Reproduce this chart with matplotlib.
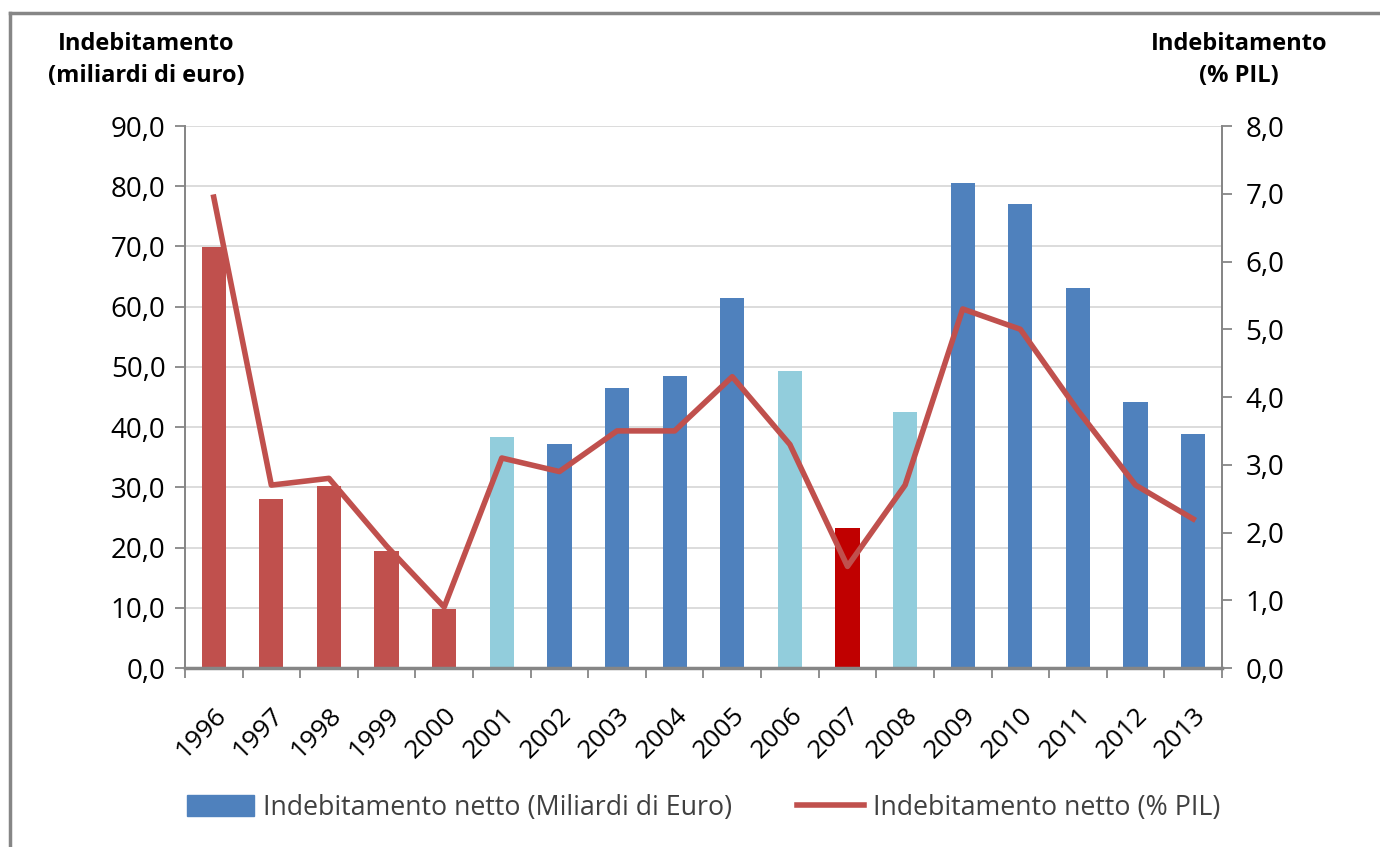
import matplotlib
matplotlib.use('Agg')
import matplotlib.pyplot as plt
from matplotlib.ticker import FuncFormatter, MultipleLocator
from matplotlib.lines import Line2D
from matplotlib.patches import Patch
import numpy as np

plt.rcParams['font.family'] = ['Open Sans', 'DejaVu Sans']

# dati
anni = ['1996', '1997', '1998', '1999', '2000', '2001', '2002', '2003', '2004',
        '2005', '2006', '2007', '2008', '2009', '2010', '2011', '2012', '2013']
miliardi = [69.9, 28.1, 30.2, 19.4, 9.8, 38.4, 37.2, 46.5, 48.5,
            61.4, 49.3, 23.2, 42.5, 80.5, 77.0, 63.1, 44.2, 38.9]
pil = [6.95, 2.7, 2.8, 1.8, 0.9, 3.1, 2.9, 3.5, 3.5,
       4.3, 3.3, 1.5, 2.7, 5.3, 5.0, 3.8, 2.7, 2.2]
colori = ['#C0504D'] * 5 + ['#92CDDC', '#4F81BD', '#4F81BD', '#4F81BD', '#4F81BD',
                            '#92CDDC', '#C00000', '#92CDDC',
                            '#4F81BD', '#4F81BD', '#4F81BD', '#4F81BD', '#4F81BD']

fig = plt.figure(figsize=(13.8, 8.47), dpi=100)
ax = fig.add_axes([0.134, 0.2113, 0.7515, 0.6399])
x = np.arange(len(anni))
ax.bar(x, miliardi, width=0.42, color=colori, zorder=2)
ax.set_xlim(-0.5, len(anni) - 0.5)
ax.set_ylim(0, 90)
ax.yaxis.set_major_locator(MultipleLocator(10))
virgola = FuncFormatter(lambda v, p: ('%.1f' % v).replace('.', ','))
ax.yaxis.set_major_formatter(virgola)
ax.grid(axis='y', color='#D9D9D9', linewidth=1.3, zorder=0)
ax.set_axisbelow(True)

ax2 = ax.twinx()
ax2.plot(x, pil, color='#C0504D', linewidth=4, zorder=3)
ax2.set_ylim(0, 8)
ax2.yaxis.set_major_locator(MultipleLocator(1))
ax2.yaxis.set_major_formatter(virgola)

for a in (ax, ax2):
    for s in a.spines.values():
        s.set_color('#868686')
        s.set_linewidth(1.3)
    a.spines['top'].set_visible(False)
ax.spines['bottom'].set_linewidth(2.5)

ax.set_xticks(x)
ax.set_xticklabels(anni, rotation=45, ha='right', rotation_mode='anchor', fontsize=19)
ax.set_xticks(np.arange(-0.5, len(anni), 1), minor=True)
ax.tick_params(axis='x', which='major', length=0, pad=25)
ax.tick_params(axis='x', which='minor', length=7, color='#868686', width=1.3)
ax.tick_params(axis='y', length=7, color='#868686', width=1.3, labelsize=20, pad=7)
ax2.tick_params(axis='y', length=7, color='#868686', width=1.3, labelsize=20, pad=10)

fig.text(0.106, 0.929, 'Indebitamento\n(miliardi di euro)', ha='center', va='center',
         fontsize=17, fontweight='bold', linespacing=1.45)
fig.text(0.898, 0.929, 'Indebitamento\n(% PIL)', ha='center', va='center',
         fontsize=17, fontweight='bold', linespacing=1.45)

maniglie = [Patch(color='#4F81BD'), Line2D([0], [0], color='#C0504D', linewidth=4)]
fig.legend(maniglie, ['Indebitamento netto (Miliardi di Euro)', 'Indebitamento netto (% PIL)'],
           loc='center', bbox_to_anchor=(0.51, 0.046), ncol=2, frameon=False,
           fontsize=19.3, handlelength=2.5, handleheight=0.8, columnspacing=2.4,
           handletextpad=0.35, labelcolor='#404040')

# cornice grigia
fig.add_artist(Line2D([0.0074, 0.0074], [0, 0.985], color='#868686', linewidth=2.5))
fig.add_artist(Line2D([0.0074, 1], [0.985, 0.985], color='#868686', linewidth=2.5))

fig.savefig('out.png', dpi=100)
